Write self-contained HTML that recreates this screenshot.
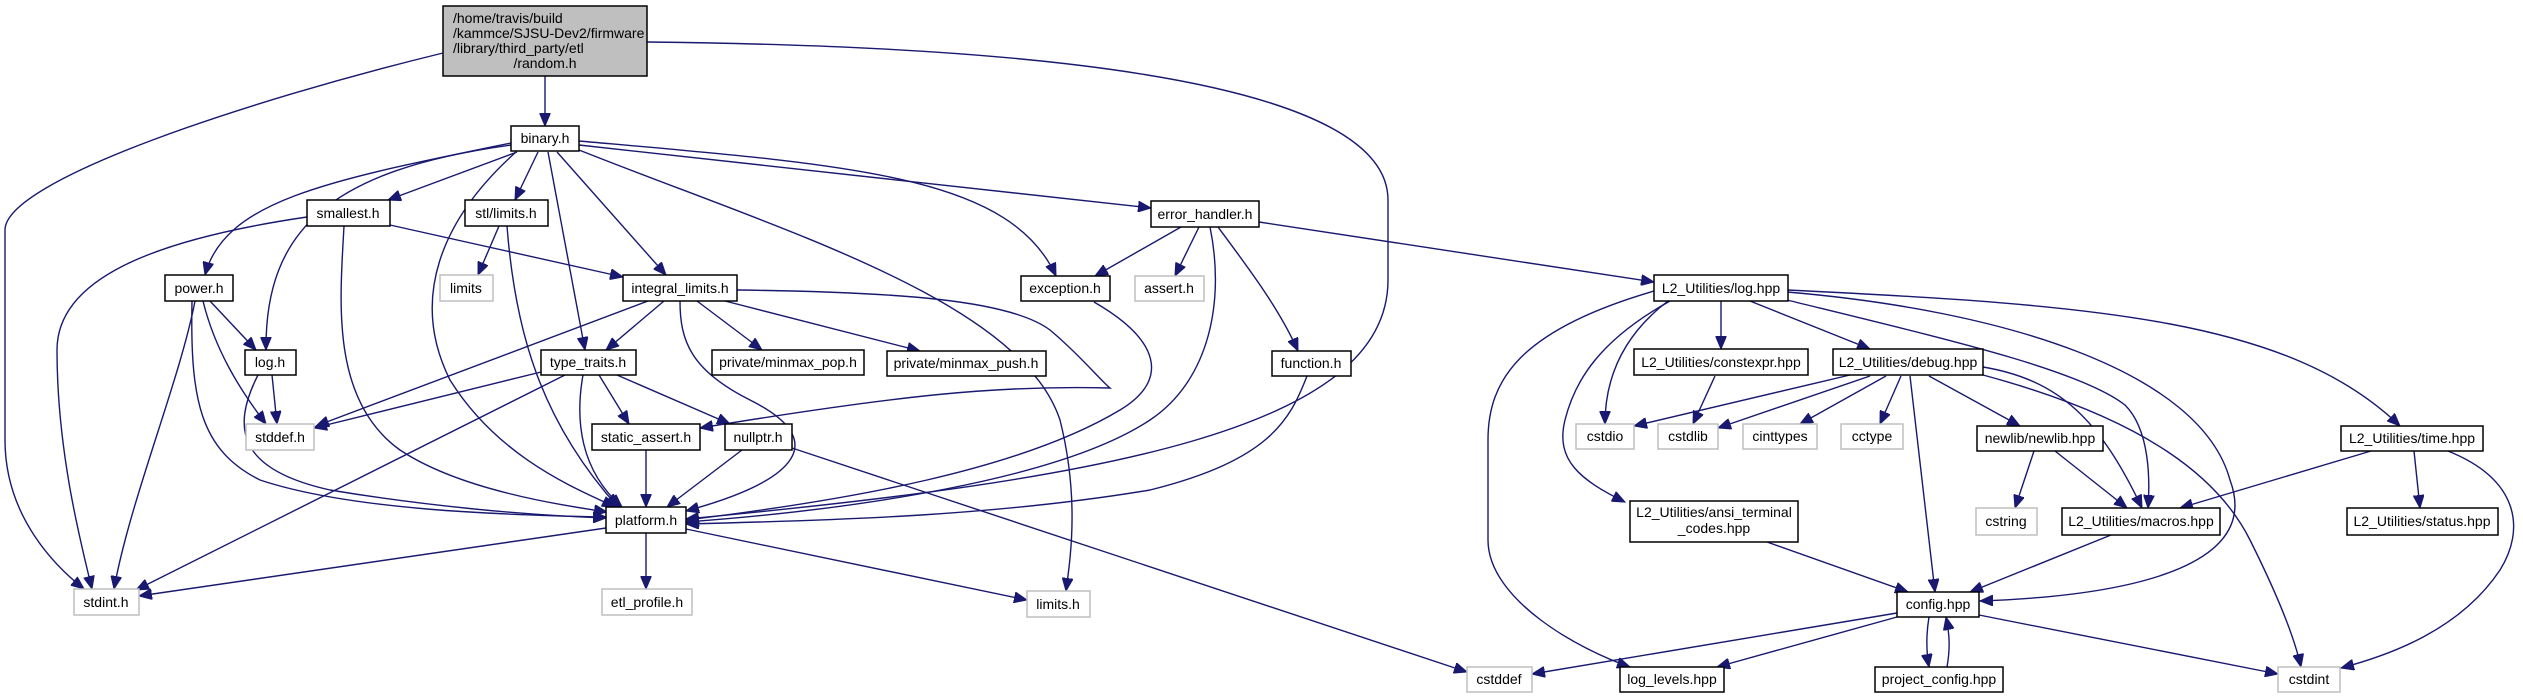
<!DOCTYPE html>
<html><head><meta charset="utf-8"><style>
html,body{margin:0;padding:0;background:#fff;}
svg{display:block;}
text{font-family:"Liberation Sans",Arial,sans-serif;font-size:14px;fill:#000;}
.n rect{fill:#fff;stroke:#000;stroke-width:1.5;}
.g rect{fill:#fff;stroke:#bfbfbf;stroke-width:1.5;}
path{fill:none;stroke:#191970;stroke-width:1.4;}
</style></head><body>
<svg width="2523" height="696" viewBox="0 0 2523 696" xmlns="http://www.w3.org/2000/svg">
<defs><marker id="a" markerUnits="userSpaceOnUse" markerWidth="14" markerHeight="11" refX="13" refY="5.5" orient="auto"><path d="M0,0 L13,5.5 L0,11 Z" style="fill:#191970;stroke:#191970;stroke-width:1"/></marker></defs>
<g marker-end="url(#a)">
<path d="M545,76 L545,126"/>
<path d="M443,53 C250,100 5,180 5,230 L5,440 C5,520 60,570 84,589"/>
<path d="M647,42 C900,45 1388,60 1388,200 L1388,280 C1388,430 1100,480 686,519"/>
<path d="M517,152 L388,200"/>
<path d="M538,152 L515,200"/>
<path d="M511,143 C330,180 225,200 205,275"/>
<path d="M511,145 C330,170 265,230 266,350"/>
<path d="M516,152 C440,220 410,300 450,380 C500,460 580,490 615,507"/>
<path d="M548,152 L585,350"/>
<path d="M557,152 L666,275"/>
<path d="M579,141 C850,165 1010,175 1056,276"/>
<path d="M579,145 L1151,208"/>
<path d="M579,150 C780,230 1020,300 1060,420 C1080,500 1070,560 1066,591"/>
<path d="M390,225 L623,277"/>
<path d="M307,217 C150,240 57,280 57,350 C57,450 80,540 92,589"/>
<path d="M344,226 C340,300 330,400 400,450 C460,490 560,505 607,512"/>
<path d="M499,226 L478,275"/>
<path d="M507,226 C515,330 540,420 618,507"/>
<path d="M210,301 L256,350"/>
<path d="M203,301 C215,350 240,390 266,424"/>
<path d="M195,301 C180,380 130,500 114,589"/>
<path d="M192,301 C190,400 200,450 260,480 C350,510 500,515 606,517"/>
<path d="M272,375 L277,424"/>
<path d="M258,375 C230,430 240,470 330,490 C420,505 520,515 606,518"/>
<path d="M664,301 L606,350"/>
<path d="M648,301 L316,426"/>
<path d="M697,301 L762,350"/>
<path d="M725,301 L920,351"/>
<path d="M680,301 C680,340 690,370 750,400 C830,440 800,480 686,511"/>
<path d="M737,290 C900,292 1010,300 1050,330 C1080,355 1100,380 1110,388 C1000,385 900,395 700,428"/>
<path d="M541,372 L314,428"/>
<path d="M565,375 L136,590"/>
<path d="M583,375 C575,420 580,470 622,507"/>
<path d="M599,375 L629,424"/>
<path d="M617,375 L730,424"/>
<path d="M646,450 L646,507"/>
<path d="M742,450 L667,507"/>
<path d="M792,448 L1467,672"/>
<path d="M606,528 L139,596"/>
<path d="M646,533 L646,589"/>
<path d="M686,529 L1027,600"/>
<path d="M1094,302 C1160,340 1170,380 1120,410 C1020,470 850,500 686,520"/>
<path d="M1181,227 L1095,276"/>
<path d="M1199,227 L1175,276"/>
<path d="M1218,227 C1250,270 1280,310 1298,351"/>
<path d="M1210,227 C1225,300 1210,380 1150,420 C1060,480 850,510 686,522"/>
<path d="M1259,222 L1654,282"/>
<path d="M1307,376 C1290,420 1270,460 1150,490 C1000,515 850,520 686,524"/>
<path d="M1654,291 C1520,330 1488,380 1488,440 L1488,540 C1488,600 1580,650 1630,667"/>
<path d="M1668,301 C1630,330 1605,370 1605,424"/>
<path d="M1670,301 C1600,340 1575,380 1565,420 C1555,460 1580,480 1625,502"/>
<path d="M1721,301 L1721,349"/>
<path d="M1750,301 L1870,349"/>
<path d="M1787,300 C1950,340 2080,370 2125,405 C2150,430 2150,480 2148,508"/>
<path d="M1787,292 C2000,310 2200,370 2230,480 C2260,560 2150,595 1980,601"/>
<path d="M1787,290 C2100,305 2290,320 2400,426"/>
<path d="M1715,376 L1693,424"/>
<path d="M1850,375 L1634,426"/>
<path d="M1870,376 L1718,428"/>
<path d="M1886,376 L1800,424"/>
<path d="M1901,376 L1880,424"/>
<path d="M1910,376 L1935,592"/>
<path d="M1929,376 L2020,426"/>
<path d="M1983,367 C2060,380 2100,420 2142,508"/>
<path d="M1983,375 C2150,420 2220,480 2250,540 C2280,600 2295,640 2301,667"/>
<path d="M2034,451 L2015,508"/>
<path d="M2055,451 L2127,508"/>
<path d="M2371,451 L2180,508"/>
<path d="M2414,451 L2420,508"/>
<path d="M2448,451 C2520,480 2525,530 2500,570 C2460,630 2390,655 2341,668"/>
<path d="M1767,542 L1908,592"/>
<path d="M2111,535 L1970,592"/>
<path d="M1897,613 L1532,674"/>
<path d="M1897,617 L1717,667"/>
<path d="M1929,617 C1926,635 1926,650 1929,667"/>
<path d="M1979,615 L2278,674"/>
<path d="M1947,667 C1950,650 1950,635 1946,617"/>
</g>

<rect x="443" y="6" width="204" height="70" style="fill:#bfbfbf;stroke:#000;stroke-width:1.5"/>
<text x="453" y="23">/home/travis/build</text>
<text x="453" y="38">/kammce/SJSU-Dev2/firmware</text>
<text x="453" y="53">/library/third_party/etl</text>
<text x="545" y="68" text-anchor="middle">/random.h</text>

<g class="n" text-anchor="middle">
<rect x="511" y="126" width="68" height="25"/><text x="545" y="143">binary.h</text>
<rect x="307" y="200" width="83" height="26"/><text x="348" y="218">smallest.h</text>
<rect x="465" y="200" width="83" height="26"/><text x="506" y="218">stl/limits.h</text>
<rect x="1151" y="201" width="108" height="26"/><text x="1205" y="219">error_handler.h</text>
<rect x="165" y="275" width="68" height="26"/><text x="199" y="293">power.h</text>
<rect x="623" y="275" width="114" height="26"/><text x="680" y="293">integral_limits.h</text>
<rect x="1021" y="276" width="89" height="25"/><text x="1065" y="293">exception.h</text>
<rect x="1654" y="275" width="134" height="26"/><text x="1721" y="293">L2_Utilities/log.hpp</text>
<rect x="245" y="350" width="51" height="25"/><text x="270" y="367">log.h</text>
<rect x="541" y="350" width="95" height="25"/><text x="588" y="367">type_traits.h</text>
<rect x="712" y="350" width="152" height="25"/><text x="788" y="367">private/minmax_pop.h</text>
<rect x="887" y="351" width="159" height="25"/><text x="966" y="368">private/minmax_push.h</text>
<rect x="1272" y="351" width="79" height="25"/><text x="1311" y="368">function.h</text>
<rect x="1634" y="349" width="174" height="26"/><text x="1721" y="367">L2_Utilities/constexpr.hpp</text>
<rect x="1833" y="349" width="150" height="26"/><text x="1908" y="367">L2_Utilities/debug.hpp</text>
<rect x="592" y="424" width="108" height="26"/><text x="646" y="442">static_assert.h</text>
<rect x="725" y="424" width="67" height="26"/><text x="758" y="442">nullptr.h</text>
<rect x="1977" y="426" width="126" height="25"/><text x="2040" y="443">newlib/newlib.hpp</text>
<rect x="2341" y="426" width="142" height="25"/><text x="2412" y="443">L2_Utilities/time.hpp</text>
<rect x="1630" y="501" width="168" height="41"/><text x="1714" y="517">L2_Utilities/ansi_terminal</text><text x="1714" y="533">_codes.hpp</text>
<rect x="606" y="507" width="80" height="26"/><text x="646" y="525">platform.h</text>
<rect x="2062" y="508" width="158" height="27"/><text x="2141" y="526">L2_Utilities/macros.hpp</text>
<rect x="2347" y="508" width="151" height="27"/><text x="2422" y="526">L2_Utilities/status.hpp</text>
<rect x="1897" y="592" width="82" height="25"/><text x="1938" y="609">config.hpp</text>
<rect x="1620" y="667" width="104" height="25"/><text x="1672" y="684">log_levels.hpp</text>
<rect x="1875" y="667" width="128" height="25"/><text x="1939" y="684">project_config.hpp</text>
</g>
<g class="g" text-anchor="middle">
<rect x="440" y="275" width="53" height="26"/><text x="466" y="293">limits</text>
<rect x="1135" y="276" width="69" height="25"/><text x="1169" y="293">assert.h</text>
<rect x="246" y="424" width="68" height="26"/><text x="280" y="442">stddef.h</text>
<rect x="1576" y="424" width="58" height="25"/><text x="1605" y="441">cstdio</text>
<rect x="1658" y="424" width="60" height="25"/><text x="1688" y="441">cstdlib</text>
<rect x="1743" y="424" width="74" height="25"/><text x="1780" y="441">cinttypes</text>
<rect x="1841" y="424" width="62" height="25"/><text x="1872" y="441">cctype</text>
<rect x="1976" y="508" width="61" height="27"/><text x="2006" y="526">cstring</text>
<rect x="74" y="589" width="65" height="26"/><text x="106" y="607">stdint.h</text>
<rect x="602" y="589" width="90" height="26"/><text x="647" y="607">etl_profile.h</text>
<rect x="1027" y="591" width="63" height="26"/><text x="1058" y="609">limits.h</text>
<rect x="1467" y="667" width="65" height="25"/><text x="1499" y="684">cstddef</text>
<rect x="2278" y="667" width="62" height="25"/><text x="2309" y="684">cstdint</text>
</g>
</svg>
</body></html>
